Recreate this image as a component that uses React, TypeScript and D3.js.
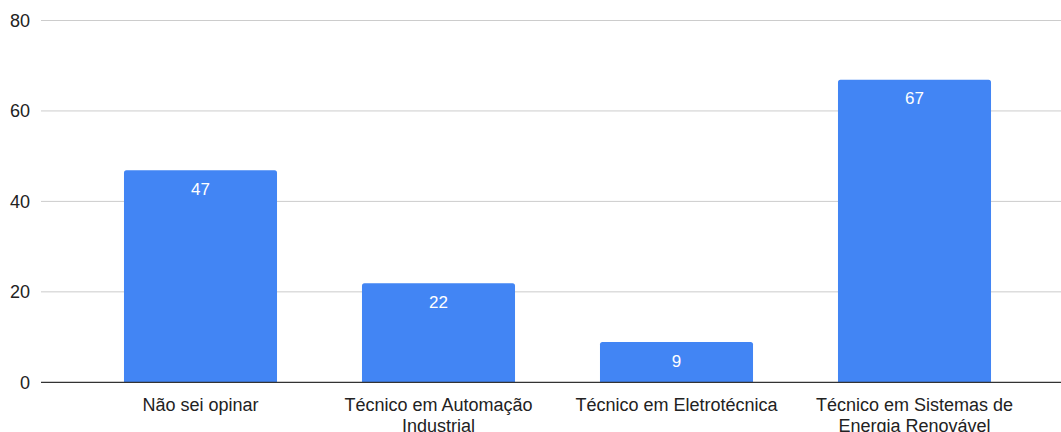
import React from "react";
import * as d3 from "d3";

const categories = [
  ["Não sei opinar"],
  ["Técnico em Automação", "Industrial"],
  ["Técnico em Eletrotécnica"],
  ["Técnico em Sistemas de", "Energia Renovável"],
];
const values = [47, 22, 9, 67];
const yTicks = [0, 20, 40, 60, 80];

const W = 1061;
const H = 432;
const FONT = "'Liberation Sans', Arial, sans-serif";

export default function App() {
  const ids = categories.map((_, i) => String(i));
  const x = d3.scaleBand<string>().domain(ids).range([81.5, 1033.5]).paddingInner(0.357).paddingOuter(0.1785);
  const y = d3.scaleLinear().domain([0, 80]).range([382.3, 20.5]);
  const r = 2.5;
  const barPath = (x0: number, w: number, y0: number, y1: number) => {
    const p = d3.path();
    p.moveTo(x0, y1);
    p.lineTo(x0, y0 + r);
    p.arcTo(x0, y0, x0 + r, y0, r);
    p.lineTo(x0 + w - r, y0);
    p.arcTo(x0 + w, y0, x0 + w, y0 + r, r);
    p.lineTo(x0 + w, y1);
    p.closePath();
    return p.toString();
  };
  return (
    <svg width={W} height={H} style={{ position: "absolute", left: 0, top: 0, background: "#fff" }} fontFamily={FONT}>
      {yTicks.map((t) => (
        <g key={t}>
          {t !== 0 && (
            <line x1={41} x2={W} y1={y(t)} y2={y(t)} stroke="#cccccc" strokeWidth={1} />
          )}
          <text x={30} y={y(t) + 6.2} textAnchor="end" fontSize={18} fill="#222">
            {t}
          </text>
        </g>
      ))}
      {values.map((v, i) => {
        const bx = x(String(i))!;
        const bw = x.bandwidth();
        return (
          <g key={i}>
            <path d={barPath(bx, bw, y(v) + 0.5, y(0))} fill="#4285f4" />
            <text x={bx + bw / 2} y={y(v) + 25} textAnchor="middle" fontSize={17} fill="#ffffff">
              {v}
            </text>
          </g>
        );
      })}
      <line x1={41} x2={W} y1={y(0)} y2={y(0)} stroke="#333" strokeWidth={1.2} />
      {categories.map((lines, i) => {
        const cx = x(String(i))! + x.bandwidth() / 2;
        return (
          <text key={i} textAnchor="middle" fontSize={18} fill="#222">
            {lines.map((l, j) => (
              <tspan key={j} x={cx} y={411 + j * 21}>
                {l}
              </tspan>
            ))}
          </text>
        );
      })}
    </svg>
  );
}
